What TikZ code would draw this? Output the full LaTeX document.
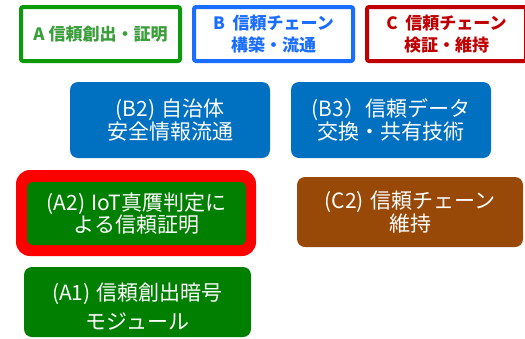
\documentclass[tikz,border=0pt]{standalone}
\usepackage{fontspec}
\setmainfont{Noto Sans CJK JP}
\definecolor{agreen}{HTML}{0A9A0A}
\definecolor{atext}{HTML}{3A9E3A}
\definecolor{bblue}{HTML}{1A6EFF}
\definecolor{cred}{HTML}{C00000}
\definecolor{boxblue}{HTML}{0070C0}
\definecolor{boxgreen}{HTML}{007F00}
\definecolor{boxbrown}{HTML}{984807}
\definecolor{framered}{HTML}{FF0000}
\newcommand{\pgap}{\hspace{0.3em}}
\begin{document}
\begin{tikzpicture}[x=1pt,y=-1pt,
  toplabel/.style={draw=#1,line width=4pt,rounded corners=2pt,fill=white,
    minimum width=159pt,minimum height=54pt,inner sep=0pt,align=center,
    font=\fontsize{17}{22}\selectfont\bfseries},
  themebox/.style={fill=#1,rounded corners=8pt,inner sep=0pt,align=center,
    text=white,font=\fontsize{21}{23.5}\selectfont}]
\useasboundingbox (0,0) rectangle (525,338);
\node[toplabel=agreen,text=atext] (ta) at (100.5,34) {A 信頼創出・証明};
\node[toplabel=bblue,text=bblue] (tb) at (273.5,34) {B\ \ 信頼チェーン\\構築・流通};
\node[toplabel=cred,text=cred] (tc) at (446.5,34) {C\ \ 信頼チェーン\\検証・維持};
\node[themebox=boxblue,minimum width=200pt,minimum height=76pt] (b2) at (170,120) {(B2)\pgap 自治体\\安全情報流通};
\node[themebox=boxblue,minimum width=200pt,minimum height=76pt] (b3) at (391,120) {(B3）信頼データ\\交換・共有技術};
\node[fill=framered,rounded corners=14pt,minimum width=240pt,minimum height=86pt,inner sep=0pt] (a2f) at (136,213) {};
\node[themebox=boxgreen,rounded corners=6pt,minimum width=219pt,minimum height=63pt,font=\fontsize{21}{22}\selectfont] (a2) at (136.5,213.5) {(A2)\pgap IoT真贋判定に\\よる信頼証明};
\node[themebox=boxbrown,minimum width=226pt,minimum height=70pt] (c2) at (410,212) {(C2)\pgap 信頼チェーン\\維持};
\node[themebox=boxgreen,minimum width=227pt,minimum height=70pt] (a1) at (137.5,302) {};
\node[align=center,text=white,inner sep=0pt,font=\fontsize{21}{28.5}\selectfont] (a1t) at ([yshift=-4.5pt]a1.center) {(A1)\pgap 信頼創出暗号\\モジュール};
\end{tikzpicture}
\end{document}
